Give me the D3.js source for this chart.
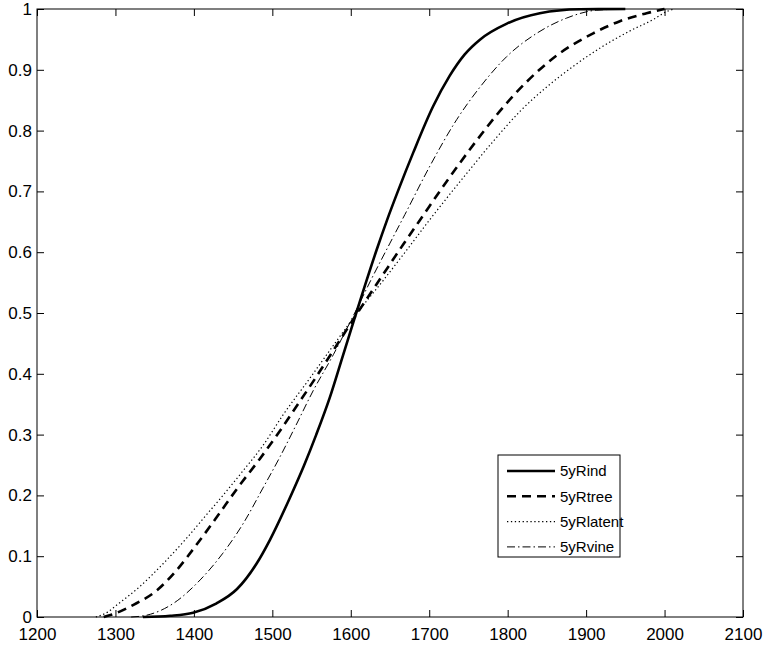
<!DOCTYPE html>
<html lang="en">
<head>
<meta charset="UTF-8" />
<title>5yR CDF comparison</title>
<script src="https://d3js.org/d3.v7.min.js"></script>
<style>
    html, body {
        margin: 0;
        padding: 0;
        background: #fff;
    }
    svg {
        display: block;
        font-family: "Liberation Sans", Arial, Helvetica, sans-serif;
    }
    .tick text {
        font-size: 17px;
        fill: #000;
    }
    .tick line {
        stroke: #000;
    }
</style>
</head>
<body>
<svg width="763" height="648"></svg>
<script>
    // values: [x, cumulative probability]
    const rInd = [
        [1335, 0], [1370, 0.002], [1399, 0.007], [1429, 0.0225], [1455, 0.046],
        [1480, 0.088], [1497, 0.127], [1522, 0.195], [1540, 0.248], [1556, 0.3],
        [1573, 0.36], [1590, 0.43], [1605, 0.492], [1618, 0.545], [1633, 0.604],
        [1646, 0.652], [1660, 0.7], [1680, 0.765], [1705, 0.84], [1726, 0.89],
        [1745, 0.925], [1765, 0.95], [1799, 0.976], [1841, 0.993], [1892, 0.9995],
        [1950, 1]
    ];
    const rTree = [
        [1285, 0], [1300, 0.006], [1323, 0.02], [1353, 0.044], [1378, 0.077],
        [1404, 0.12], [1429, 0.164], [1455, 0.211], [1484, 0.26], [1508, 0.303],
        [1530, 0.345], [1557, 0.397], [1582, 0.447], [1612, 0.507], [1641, 0.563],
        [1667, 0.613], [1692, 0.66], [1722, 0.716], [1760, 0.783], [1790, 0.832],
        [1824, 0.88], [1862, 0.923], [1909, 0.96], [1943, 0.98], [1977, 0.993],
        [2000, 1]
    ];
    const rLatent = [
        [1275, 0], [1290, 0.008], [1302, 0.02], [1331, 0.05], [1361, 0.088],
        [1391, 0.13], [1412, 0.162], [1437, 0.2], [1463, 0.241], [1488, 0.282],
        [1514, 0.333], [1548, 0.393], [1578, 0.447], [1607, 0.498], [1641, 0.553],
        [1671, 0.603], [1701, 0.654], [1743, 0.722], [1782, 0.783], [1816, 0.832],
        [1850, 0.872], [1885, 0.907], [1918, 0.936], [1956, 0.964], [1986, 0.983],
        [2003, 0.996], [2012, 1]
    ];
    const rVine = [
        [1320, 0], [1340, 0.003], [1374, 0.0225], [1408, 0.061], [1437, 0.105],
        [1463, 0.154], [1488, 0.212], [1510, 0.264], [1530, 0.315], [1552, 0.372],
        [1578, 0.432], [1605, 0.5], [1626, 0.555], [1650, 0.615], [1669, 0.662],
        [1701, 0.742], [1735, 0.818], [1765, 0.872], [1799, 0.922], [1837, 0.96],
        [1875, 0.985], [1913, 0.998], [1950, 1]
    ];

    const seriesNames = ["5yRind", "5yRtree", "5yRlatent", "5yRvine"];
    const seriesData = [rInd, rTree, rLatent, rVine];
    const xTicks = [1200, 1300, 1400, 1500, 1600, 1700, 1800, 1900, 2000, 2100];
    const yTicks = [0, 0.1, 0.2, 0.3, 0.4, 0.5, 0.6, 0.7, 0.8, 0.9, 1];

    // line look per series (matlab style)
    const lineStyles = [
        { width: 2.6, dash: null },
        { width: 2.6, dash: "9,6" },
        { width: 1.2, dash: "1.3,2.6" },
        { width: 1, dash: "8,3,1.5,3" }
    ];

    const svg = d3.select("svg");
    const margin = { left: 37, top: 9, right: 20, bottom: 31 };
    const width = 763 - margin.left - margin.right;
    const height = 648 - margin.top - margin.bottom;

    const g = svg.append("g")
        .attr("transform", `translate(${margin.left},${margin.top})`);

    const x = d3.scaleLinear().domain([1200, 2100]).range([0, width]);
    const y = d3.scaleLinear().domain([0, 1]).range([height, 0]);

    const fmtY = d => d === 0 ? "0" : d === 1 ? "1" : d3.format(".1f")(d);

    // axes, ticks pointing inward
    g.append("g")
        .attr("transform", `translate(0,${height})`)
        .call(d3.axisBottom(x).tickValues(xTicks).tickSizeInner(-7).tickSizeOuter(0)
            .tickPadding(11).tickFormat(d3.format("d")))
        .call(a => a.select(".domain").remove());
    g.append("g")
        .call(d3.axisTop(x).tickValues(xTicks).tickSizeInner(-7).tickSizeOuter(0).tickFormat(""))
        .call(a => a.select(".domain").remove());
    g.append("g")
        .call(d3.axisLeft(y).tickValues(yTicks).tickSizeInner(-7).tickSizeOuter(0).tickPadding(5).tickFormat(fmtY))
        .call(a => a.select(".domain").remove());
    g.append("g")
        .attr("transform", `translate(${width},0)`)
        .call(d3.axisRight(y).tickValues(yTicks).tickSizeInner(-7).tickSizeOuter(0).tickFormat(""))
        .call(a => a.select(".domain").remove());

    g.selectAll(".tick text").attr("font-family", null).attr("font-size", null);

    g.append("rect")
        .attr("width", width)
        .attr("height", height)
        .attr("fill", "none")
        .attr("stroke", "#000")
        .attr("stroke-width", 1);

    const line = d3.line()
        .x(d => x(d[0]))
        .y(d => y(d[1]))
        .curve(d3.curveMonotoneX);

    g.selectAll(".series")
        .data(seriesData)
        .join("path")
        .attr("class", "series")
        .attr("d", line)
        .attr("fill", "none")
        .attr("stroke", "#000")
        .attr("stroke-width", (d, i) => lineStyles[i].width)
        .attr("stroke-dasharray", (d, i) => lineStyles[i].dash);

    // legend box
    const legend = svg.append("g").attr("transform", "translate(498,455)");
    legend.append("rect")
        .attr("width", 122)
        .attr("height", 102)
        .attr("fill", "#fff")
        .attr("stroke", "#000")
        .attr("stroke-width", 1);

    const rows = legend.selectAll(".row")
        .data(seriesNames)
        .join("g")
        .attr("class", "row")
        .attr("transform", (d, i) => `translate(0,${16 + i * 25.3})`);

    rows.append("line")
        .attr("x1", 9)
        .attr("x2", 57)
        .attr("stroke", "#000")
        .attr("stroke-width", (d, i) => lineStyles[i].width)
        .attr("stroke-dasharray", (d, i) => lineStyles[i].dash);

    rows.append("text")
        .attr("x", 62)
        .attr("dy", "0.35em")
        .attr("font-size", 15)
        .text(d => d);
</script>
</body>
</html>
